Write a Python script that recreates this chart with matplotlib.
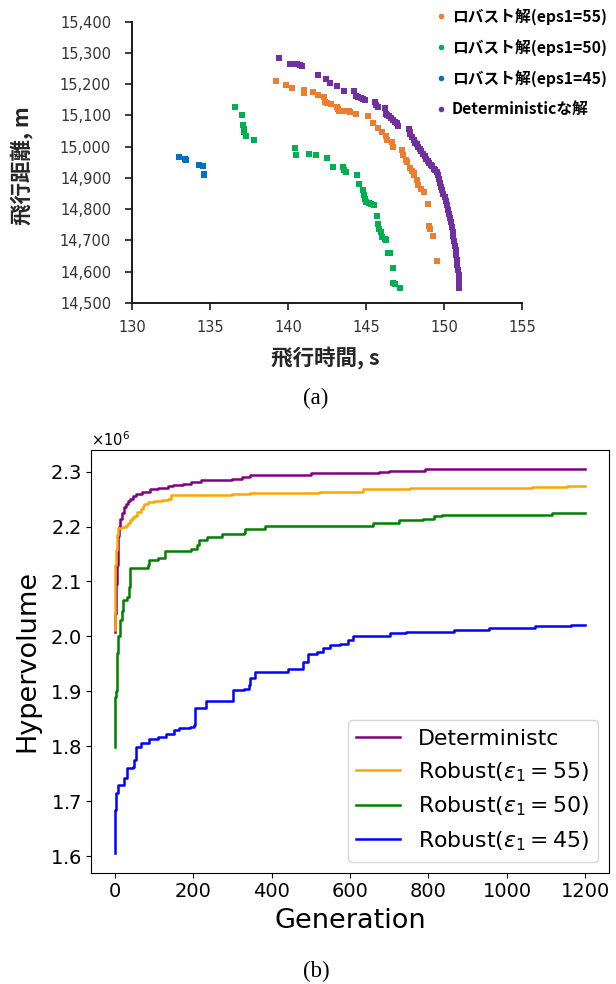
import matplotlib
matplotlib.use("Agg")
import matplotlib.pyplot as plt
from matplotlib.lines import Line2D
from matplotlib.ticker import ScalarFormatter, FuncFormatter, MultipleLocator

# ---------------- (a) Pareto fronts ----------------
r55_t = [139.2, 139.9, 140.25, 141.0, 141.05, 141.6, 141.9, 142.3, 142.4, 142.5, 142.75, 143.15,
         143.2, 143.3, 143.6, 143.9, 144.0, 144.35, 145.1, 145.45, 145.75, 146.05, 146.25, 146.35,
         146.65, 146.75, 147.3, 147.4, 147.55, 147.65, 147.85, 147.95, 148.05, 148.1, 148.25,
         148.35, 148.55, 148.7, 148.95, 149.05, 149.1, 149.3, 149.55]
r55_d = [15211, 15199, 15189, 15180, 15171, 15174, 15166, 15160, 15143, 15140, 15136, 15128,
         15120, 15115, 15114, 15113, 15111, 15106, 15098, 15077, 15061, 15048, 15034, 15023,
         15015, 15000, 14990, 14972, 14958, 14952, 14932, 14923, 14915, 14908, 14893,
         14878, 14866, 14856, 14817, 14745, 14736, 14715, 14635]

r50_t = [136.6, 137.05, 137.1, 137.15, 137.2, 137.3, 137.8, 140.45, 140.5, 141.35, 141.8, 142.5,
         142.9, 143.5, 143.6, 143.7, 144.4, 144.55, 144.8, 144.9, 144.95, 145.0, 145.2, 145.35,
         145.5, 145.7, 145.8, 145.85, 145.95, 146.05, 146.2, 146.25, 146.4, 146.55, 146.7, 146.75,
         146.85, 147.15]
r50_d = [15126, 15102, 15068, 15058, 15048, 15035, 15021, 14995, 14975, 14977, 14972, 14963,
         14934, 14934, 14926, 14918, 14910, 14881, 14862, 14845, 14832, 14822, 14820, 14817,
         14812, 14779, 14752, 14736, 14728, 14712, 14705, 14703, 14660, 14660, 14612, 14563,
         14560, 14548]

r45_t = [133.0, 133.4, 133.45, 134.3, 134.55, 134.6, 134.6]
r45_d = [14968, 14962, 14957, 14942, 14939, 14914, 14908]

det_t = [139.4, 140.1, 140.45, 140.6, 140.75, 140.9, 141.9, 142.45, 142.7, 143.15, 143.6, 144.25,
         144.35, 144.5, 144.65, 144.8, 144.95, 145.6, 145.65, 145.75, 146.2, 146.25, 146.35, 146.5,
         146.6, 146.75, 146.85, 147.0, 147.05, 147.75, 147.8, 147.85, 147.95, 148.05, 148.15,
         148.25, 148.35, 148.45, 148.55, 148.65, 148.75, 148.85, 148.95, 149.05, 149.15, 149.25,
         149.35, 149.45, 149.55, 149.6, 149.7, 149.75, 149.8, 149.88, 149.95, 150.05, 150.12,
         150.2, 150.28, 150.35, 150.4, 150.45, 150.5, 150.55, 150.6, 150.65, 150.7, 150.75,
         150.8, 150.83, 150.86, 150.9, 150.93, 150.94, 150.95, 150.95]
det_d = [15285, 15266, 15266, 15264, 15261, 15257, 15231, 15216, 15204, 15195, 15179, 15177,
         15162, 15158, 15156, 15153, 15149, 15143, 15135, 15127, 15123, 15105, 15102, 15098,
         15092, 15085, 15080, 15075, 15065, 15056, 15048, 15040, 15030, 15020, 15013,
         15008, 15000, 14993, 14985, 14977, 14969, 14962, 14955, 14948, 14942, 14937,
         14930, 14924, 14918, 14908, 14898, 14885, 14872, 14860, 14850, 14838, 14826,
         14812, 14798, 14785, 14772, 14758, 14744, 14728, 14713, 14698, 14683, 14668,
         14652, 14636, 14620, 14605, 14590, 14575, 14560, 14548]

a_labels = ["ロバスト解(eps1=55)", "ロバスト解(eps1=50)", "ロバスト解(eps1=45)", "Deterministicな解"]
a_colors = ["#ED7D31", "#00B050", "#0070C0", "#7030A0"]

# ---------------- (b) Hypervolume history (x1e6) ----------------
det_g = [0, 2, 4, 6, 8, 10, 12, 15, 19, 23, 28, 34, 40, 47, 55, 70, 90, 110, 135, 150, 175, 195,
         220, 260, 300, 325, 345, 405, 500, 560, 640, 675, 700, 790, 1200]
det_h = [2.008, 2.04, 2.095, 2.13, 2.16, 2.182, 2.199, 2.213, 2.225, 2.235, 2.241, 2.247, 2.251,
         2.256, 2.260, 2.263, 2.268, 2.270, 2.273, 2.276, 2.278, 2.281, 2.284, 2.285, 2.287,
         2.290, 2.293, 2.294, 2.297, 2.298, 2.298, 2.300, 2.302, 2.3044, 2.3044]

r55_g = [0, 1, 2, 4, 7, 10, 20, 29, 35, 40, 45, 50, 58, 67, 72, 76, 85, 101, 120, 135, 143, 200,
         300, 346, 426, 520, 633, 752, 900, 1063, 1152, 1200]
r55_h = [2.011, 2.08, 2.13, 2.157, 2.185, 2.198, 2.200, 2.202, 2.207, 2.211, 2.216, 2.220, 2.226,
         2.232, 2.237, 2.241, 2.244, 2.246, 2.248, 2.2505, 2.2566, 2.2575, 2.259, 2.2607, 2.2614,
         2.263, 2.2675, 2.2695, 2.271, 2.2717, 2.2747, 2.2747]

r50_g = [0, 2, 4, 6, 8, 10, 14, 18, 22, 32, 36, 40, 84, 88, 111, 128, 194, 211, 216, 236, 274,
         329, 333, 384, 430, 658, 726, 785, 814, 835, 1114, 1200]
r50_h = [1.799, 1.89, 1.90, 1.97, 1.98, 2.0, 2.03, 2.046, 2.066, 2.072, 2.09, 2.125, 2.1293,
         2.1396, 2.1433, 2.1553, 2.159, 2.1656, 2.176, 2.1808, 2.1856, 2.1887, 2.1947, 2.2007,
         2.2013, 2.2062, 2.2111, 2.2141, 2.219, 2.2214, 2.2244, 2.2244]

r45_g = [0, 1, 4, 8, 25, 32, 46, 50, 55, 67, 88, 110, 131, 152, 164, 192, 202, 204, 234, 303,
         329, 342, 346, 357, 443, 481, 493, 515, 530, 548, 574, 595, 607, 702, 742, 792, 865,
         953, 1072, 1164, 1200]
r45_h = [1.605, 1.684, 1.714, 1.729, 1.7414, 1.7596, 1.7615, 1.7747, 1.799, 1.805, 1.814, 1.817,
         1.823, 1.829, 1.8335, 1.8353, 1.8384, 1.8687, 1.882, 1.902, 1.905, 1.911, 1.9233,
         1.9353, 1.9414, 1.9535, 1.9675, 1.9716, 1.9796, 1.985, 1.987, 1.993, 2.0002, 2.0069,
         2.0075, 2.0087, 2.0124, 2.016, 2.0184, 2.0202, 2.0202]

b_labels = ["Deterministc", r"Robust($\varepsilon_1 = 55$)", r"Robust($\varepsilon_1 = 50$)",
            r"Robust($\varepsilon_1 = 45$)"]
b_colors = ["purple", "orange", "green", "blue"]

W, H = 616, 984
fig = plt.figure(figsize=(W / 100, H / 100), dpi=100)
cjk = ["Noto Sans CJK JP", "DejaVu Sans"]

# ---- (a) ----
ax1 = fig.add_axes([132 / W, 1 - 303 / H, 390 / W, 281.3 / H])
for t, d, c in zip([r55_t, r50_t, r45_t, det_t], [r55_d, r50_d, r45_d, det_d], a_colors):
    ax1.scatter(t, d, s=16, marker="s", color=c, linewidths=0, zorder=3)
ax1.set_xlim(130, 155)
ax1.set_ylim(14500, 15400)
ax1.xaxis.set_major_locator(MultipleLocator(5))
ax1.yaxis.set_major_locator(MultipleLocator(100))
ax1.yaxis.set_major_formatter(FuncFormatter(lambda v, p: f"{int(round(v)):,}"))
for s in ["top", "right"]:
    ax1.spines[s].set_visible(False)
for s in ["left", "bottom"]:
    ax1.spines[s].set_linewidth(1.4)
    ax1.spines[s].set_color("#1a1a1a")
ax1.tick_params(axis="both", direction="out", length=5, width=1.2, color="#1a1a1a",
                labelsize=10.5, labelcolor="#333333")
ax1.tick_params(axis="x", pad=7)
ax1.tick_params(axis="y", pad=10)
ax1.set_xlabel("飛行時間, s", family=cjk, fontweight="bold", fontsize=15.5, color="#262626",
               va="center")
ax1.xaxis.set_label_coords(0.495, -0.1955)
ax1.set_ylabel("飛行距離, m", family=cjk, fontweight="bold", fontsize=15.5, color="#262626",
               va="center")
ax1.yaxis.set_label_coords(-0.282, 0.49)
handles = [Line2D([], [], marker="o", ls="", ms=4, color=c, markeredgewidth=0) for c in a_colors]
fig.legend(handles, a_labels, loc="center left", bbox_to_anchor=(436 / W, 1 - 62.5 / H),
           frameon=False, handlelength=0.6, handletextpad=0.4, borderpad=0, borderaxespad=0,
           labelspacing=0.9, prop={"family": cjk, "weight": "bold", "size": 11.3})
fig.text(316 / W, 1 - 398 / H, "(a)", family="Liberation Serif", fontsize=16.5,
         ha="center", va="center")

# ---- (b) ----
ax2 = fig.add_axes([91 / W, 1 - 872.5 / H, 518 / W, 422.5 / H])
for g, h, c, lab in zip([det_g, r55_g, r50_g, r45_g], [det_h, r55_h, r50_h, r45_h], b_colors, b_labels):
    ax2.plot(g, [v * 1e6 for v in h], drawstyle="steps-post", color=c, lw=1.8, label=lab)
fmt = ScalarFormatter(useMathText=True)
ax2.yaxis.set_major_formatter(fmt)
ax2.tick_params(labelsize=14)
ax2.yaxis.get_offset_text().set_fontsize(10.5)
ax2.set_xlabel("Generation", fontsize=19.5, va="center")
ax2.xaxis.set_label_coords(0.5, -0.1137)
ax2.set_ylabel("Hypervolume", fontsize=19.5, va="center")
ax2.yaxis.set_label_coords(-0.1236, 0.5)
ax2.legend(loc="lower right", fontsize=15.8)
fig.text(316 / W, 1 - 971 / H, "(b)", family="Liberation Serif", fontsize=16.5,
         ha="center", va="center")

fig.savefig("out.png", dpi=100)
